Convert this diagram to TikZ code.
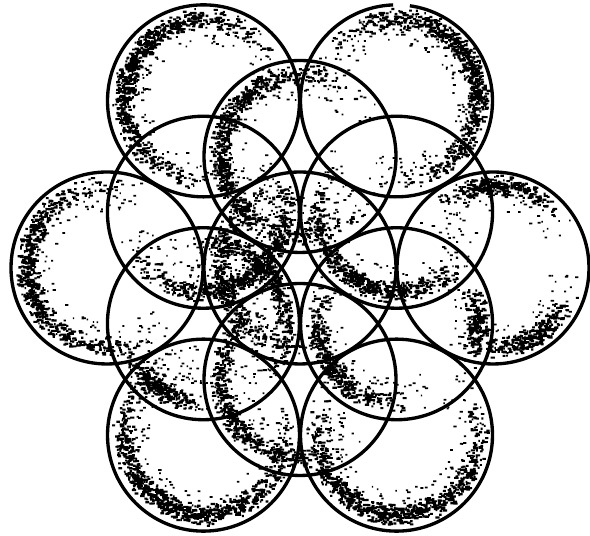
\documentclass[tikz,border=0pt]{standalone}
\usepackage{tikz}

% stippled crescent inside a circle: centre, from angle, to angle, number of dots
\newcommand{\speckle}[4]{%
  \fill[black] \foreach \k [evaluate=\k as \ang using (#2)+((#3)-(#2))*(0.5+0.25*(rand+rand)),
                            evaluate=\k as \rad using 1.92*(0.84+0.06*(rand+rand)),
                            evaluate=\k as \dw using 0.03+0.06*rnd] in {1,...,#4}
    {([shift={(#1)}]\ang:\rad) rectangle ++(\dw,0.042)};
  \pgfmathtruncatemacro\nsparse{#4/4}%
  \fill[black] \foreach \k [evaluate=\k as \ang using (#2)-15+((#3)-(#2)+30)*rnd,
                            evaluate=\k as \rad using 1.92*(0.76+0.18*rand),
                            evaluate=\k as \dw using 0.025+0.045*rnd] in {1,...,\nsparse}
    {([shift={(#1)}]\ang:\rad) rectangle ++(\dw,0.035)};
}

\begin{document}
\begin{tikzpicture}[line join=round]
\tikzstyle{ring}=[draw=black, line width=1.9pt]
\pgfmathsetseed{4711}
\useasboundingbox (0,0) rectangle (11.8,10.72);
\coordinate (o) at (6.0,5.36);
% outer six
\foreach \a/\n in {0/r, 60/tr, 120/tl, 180/l, 240/bl, 300/br}
  \coordinate (\n) at ([shift={(o)}]\a:3.86);
% inner six
\foreach \a in {30,90,150,210,270,330}
  \coordinate (i\a) at ([shift={(o)}]\a:2.23);

% shading
\speckle{tl}{30}{275}{700}
\speckle{tr}{-95}{150}{700}
\speckle{l}{80}{300}{600}
\speckle{r}{-105}{-20}{280}
\speckle{r}{40}{135}{260}
\speckle{bl}{110}{380}{750}
\speckle{br}{150}{390}{700}
\speckle{i90}{40}{320}{650}
\speckle{i30}{150}{330}{480}
\speckle{i150}{-150}{30}{480}
\speckle{i210}{-40}{100}{360}
\speckle{i210}{200}{270}{220}
\speckle{i270}{120}{300}{450}
\speckle{i330}{150}{280}{360}
\speckle{i330}{-25}{30}{160}
\speckle{o}{100}{280}{300}

% circles
\foreach \n in {o,r,tl,l,bl,br,i30,i90,i150,i210,i270,i330}
  \draw[ring] (\n) circle[radius=1.92];
\draw[ring] (tr) ++(92:1.92) arc[start angle=92, end angle=442, radius=1.92];
\end{tikzpicture}
\end{document}
